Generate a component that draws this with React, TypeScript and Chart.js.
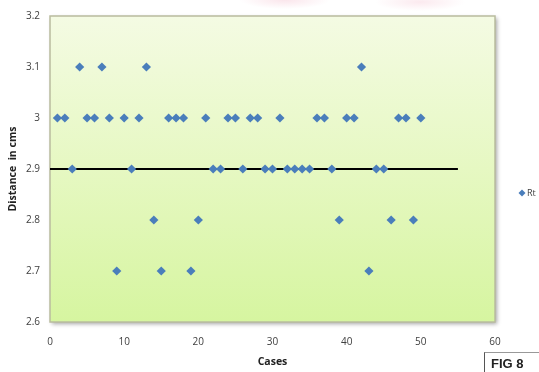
import React, { useEffect, useRef } from "react";
import { Chart, registerables } from "chart.js";

Chart.register(...registerables);

const cases: number[] = [
  1, 2, 3, 4, 5, 6, 7, 8, 9, 10,
  11, 12, 13, 14, 15, 16, 17, 18, 19, 20,
  21, 22, 23, 24, 25, 26, 27, 28, 29, 30,
  31, 32, 33, 34, 35, 36, 37, 38, 39, 40,
  41, 42, 43, 44, 45, 46, 47, 48, 49, 50,
];
const distances: number[] = [
  3.0, 3.0, 2.9, 3.1, 3.0, 3.0, 3.1, 3.0, 2.7, 3.0,
  2.9, 3.0, 3.1, 2.8, 2.7, 3.0, 3.0, 3.0, 2.7, 2.8,
  3.0, 2.9, 2.9, 3.0, 3.0, 2.9, 3.0, 3.0, 2.9, 2.9,
  3.0, 2.9, 2.9, 2.9, 2.9, 3.0, 3.0, 2.9, 2.8, 3.0,
  3.0, 3.1, 2.7, 2.9, 2.9, 2.8, 3.0, 3.0, 2.8, 3.0,
];
const refLineX: number[] = [0, 55];
const refLineY: number[] = [2.9, 2.9];
const seriesName = "Rt";
const xTitle = "Cases";
const yTitle = "Distance  in cms";
const figLabel = "FIG 8";

const bgPlugin = {
  id: "plotBg",
  beforeDatasetsDraw(chart: any) {
    const { ctx, chartArea } = chart;
    const { left, top, right, bottom } = chartArea;
    ctx.save();
    ctx.shadowColor = "rgba(0,0,0,0.35)";
    ctx.shadowBlur = 4;
    ctx.shadowOffsetX = 2;
    ctx.shadowOffsetY = 2;
    const g = ctx.createLinearGradient(0, top, 0, bottom);
    g.addColorStop(0, "#f4fbe3");
    g.addColorStop(0.5, "#e6f8c2");
    g.addColorStop(1, "#d6f5a0");
    ctx.fillStyle = g;
    ctx.fillRect(left, top, right - left, bottom - top);
    ctx.restore();
    ctx.save();
    ctx.strokeStyle = "#b9bc9e";
    ctx.lineWidth = 1.5;
    ctx.strokeRect(left, top, right - left, bottom - top);
    ctx.restore();
  },
  afterDraw(chart: any) {
    const { ctx, chartArea } = chart;
    const y = (chartArea.top + chartArea.bottom) / 2 + 24;
    const x = 522;
    ctx.save();
    ctx.fillStyle = "#4a7ebb";
    ctx.beginPath();
    ctx.moveTo(x, y - 3.5);
    ctx.lineTo(x + 3.5, y);
    ctx.lineTo(x, y + 3.5);
    ctx.lineTo(x - 3.5, y);
    ctx.closePath();
    ctx.fill();
    ctx.fillStyle = "#404040";
    ctx.font = "9px 'Open Sans'";
    ctx.textBaseline = "middle";
    ctx.fillText(chart.data.datasets[0].label, x + 5, y);
    ctx.restore();
  },
};

export default function App() {
  const ref = useRef<HTMLCanvasElement>(null);
  useEffect(() => {
    if (!ref.current) return;
    const chart = new Chart(ref.current, {
      type: "scatter",
      data: {
        datasets: [
          {
            label: seriesName,
            data: cases.map((c, i) => ({ x: c, y: distances[i] })),
            pointStyle: "rectRot",
            pointRadius: 4.6,
            pointHoverRadius: 4.6,
            backgroundColor: "#4a7ebb",
            borderColor: "#4a7ebb",
            borderWidth: 0,
          },
          {
            label: "line",
            data: refLineX.map((x, i) => ({ x, y: refLineY[i] })),
            showLine: true,
            pointRadius: 0,
            borderColor: "#000000",
            borderWidth: 2,
          },
        ],
      },
      options: {
        responsive: false,
        animation: false,
        events: [],
        layout: { padding: { left: 0, top: 14, right: 44, bottom: 0 } },
        plugins: { legend: { display: false }, tooltip: { enabled: false } },
        scales: {
          x: {
            type: "linear",
            min: 0,
            max: 60,
            afterFit: (s: any) => {
              s.height = 50;
            },
            ticks: {
              stepSize: 10,
              padding: 14,
              color: "#404040",
              font: { family: "'Open Sans'", size: 10 },
            },
            grid: { display: false, drawTicks: false },
            border: { display: false },
            title: {
              display: true,
              text: xTitle,
              color: "#222",
              font: { family: "'Open Sans'", size: 10.5, weight: "bold" },
              padding: { top: 0, bottom: 3.5 },
            },
          },
          y: {
            type: "linear",
            min: 2.6,
            max: 3.2,
            afterFit: (s: any) => {
              s.width = 50;
            },
            ticks: {
              stepSize: 0.1,
              padding: 10,
              color: "#404040",
              font: { family: "'Open Sans'", size: 10 },
              callback: (v: any) => String(Math.round(Number(v) * 10) / 10),
            },
            grid: { display: false, drawTicks: false },
            border: { display: false },
            title: {
              display: true,
              text: yTitle,
              color: "#222",
              font: { family: "'Open Sans'", size: 10.5, weight: "bold" },
              padding: { top: 6.5, bottom: 0 },
            },
          },
        },
      },
      plugins: [bgPlugin],
    });
    return () => chart.destroy();
  }, []);

  return (
    <div
      style={{
        position: "fixed",
        left: 0,
        top: 0,
        width: 539,
        height: 372,
        background: "#ffffff",
        overflow: "hidden",
      }}
    >
      <div
        style={{
          position: "absolute",
          left: 0,
          top: 0,
          width: 539,
          height: 14,
          background:
            "radial-gradient(ellipse 45px 9px at 285px 0px, rgba(240,170,190,0.3), rgba(240,170,190,0) 100%), radial-gradient(ellipse 45px 9px at 420px 2px, rgba(240,170,190,0.25), rgba(240,170,190,0) 100%)",
        }}
      />
      <canvas
        ref={ref}
        width={539}
        height={372}
        style={{ position: "absolute", left: 0, top: 0, display: "block" }}
      />
      <div
        style={{
          position: "absolute",
          left: 484,
          top: 352,
          width: 60,
          height: 24,
          borderLeft: "1px solid #555",
          borderTop: "1px solid #999",
          fontFamily: "'Liberation Sans', Arial, sans-serif",
          fontWeight: "bold",
          fontSize: 13,
          color: "#222",
          paddingLeft: 6,
          paddingTop: 3,
          boxSizing: "border-box",
          lineHeight: "16px",
        }}
      >
        {figLabel}
      </div>
    </div>
  );
}
